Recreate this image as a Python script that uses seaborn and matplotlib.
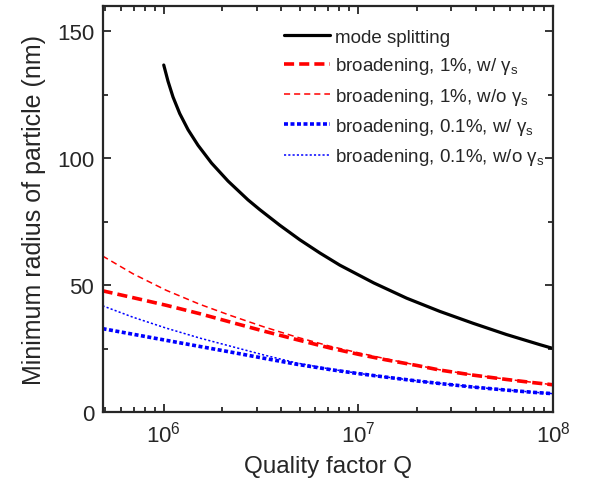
import numpy as np
import pandas as pd
import matplotlib
matplotlib.use("Agg")
import matplotlib.pyplot as plt
import seaborn as sns

# ---- data ----
q_split = [1.0e6, 1.052e6, 1.116e6, 1.208e6, 1.334e6, 1.50e6, 1.76e6, 2.14e6,
           2.71e6, 3.11e6, 3.95e6, 5.0e6, 6.34e6, 8.03e6, 1.2e7, 1.77e7,
           2.62e7, 3.89e7, 5.76e7, 8.56e7, 1.0e8]
r_split = [136.7, 130.3, 124.1, 117.6, 111.2, 105.1, 98.1, 91.0,
           83.6, 79.8, 73.6, 67.9, 62.7, 57.9, 50.9, 44.9,
           39.7, 35.0, 30.6, 26.6, 25.1]

q_broad = [4.85e5, 6.95e5, 1.03e6, 1.53e6, 2.2e6, 3.24e6, 4.81e6, 7.14e6,
           1.0e7, 1.39e7, 2.0e7, 2.62e7, 3.89e7, 5.76e7, 8.0e7, 1.0e8]
r_1_with = [47.8, 45.1, 42.1, 38.8, 35.5, 32.0, 28.6, 25.3,
            22.8, 20.6, 18.4, 16.6, 14.6, 12.9, 11.6, 10.8]
r_1_without = [61.5, 54.5, 48.0, 42.5, 38.1, 33.7, 29.6, 26.0,
               23.4, 21.0, 18.5, 16.7, 14.7, 13.0, 11.7, 10.8]
r_01_with = [32.9, 30.7, 28.3, 25.9, 23.7, 21.3, 18.9, 16.8,
             15.2, 13.8, 12.3, 11.3, 9.9, 8.7, 7.8, 7.3]
r_01_without = [41.9, 37.4, 33.1, 29.2, 26.0, 22.6, 19.4, 17.0,
                15.3, 13.85, 12.35, 11.35, 9.95, 8.75, 7.85, 7.3]

labels = ["mode splitting",
          "broadening, 1%, w/ γ$_{s}$",
          "broadening, 1%, w/o γ$_{s}$",
          "broadening, 0.1%, w/ γ$_{s}$",
          "broadening, 0.1%, w/o γ$_{s}$"]

sns.set_style("ticks")
plt.rcParams["font.family"] = ["Liberation Sans", "DejaVu Sans"]
plt.rcParams["mathtext.fontset"] = "custom"
plt.rcParams["mathtext.rm"] = "Liberation Sans"
plt.rcParams["mathtext.default"] = "regular"

fig = plt.figure(figsize=(6.07, 4.89), dpi=100)
ax = fig.add_axes([0.169, 0.155, 0.742, 0.831])

series = [
    (q_split, r_split, labels[0], "black", 2.3, None),
    (q_broad, r_1_with, labels[1], "#ff0000", 2.6, (2.8, 1.4)),
    (q_broad, r_1_without, labels[2], "#ff0000", 1.1, (4.0, 2.6)),
    (q_broad, r_01_with, labels[3], "#0000ff", 2.6, (1.1, 0.7)),
    (q_broad, r_01_without, labels[4], "#0000ff", 1.1, (1.4, 1.4)),
]

for q, r, lab, col, lw, dash in series:
    df = pd.DataFrame({"Q": q, "r": r})
    sns.lineplot(data=df, x="Q", y="r", ax=ax, color=col, linewidth=lw, label=lab)
    line = ax.get_lines()[-1]
    if dash is not None:
        line.set_dashes(dash)

ax.set_xscale("log")
ax.set_xlim(4.85e5, 1.0e8)
ax.set_ylim(0, 160)
ax.set_yticks([0, 50, 100, 150])
ax.set_yticks([25, 75, 125], minor=True)

ax.set_xlabel("Quality factor Q", fontsize=17.5, labelpad=6)
ax.set_ylabel("Minimum radius of particle (nm)", fontsize=18, labelpad=8)

ax.tick_params(which="both", direction="in", top=True, right=True, width=1.3,
               labelsize=16)
ax.tick_params(which="major", length=6)
ax.tick_params(which="minor", length=3.5)
ax.tick_params(axis="x", which="major", pad=6)
ax.tick_params(axis="y", which="major", pad=6)
for s in ax.spines.values():
    s.set_linewidth(1.6)

leg = ax.legend(loc="upper left", frameon=False, fontsize=13.5,
                handlelength=2.45, handletextpad=0.27, labelspacing=0.5,
                bbox_to_anchor=(0.386, 0.962), borderaxespad=0.0,
                borderpad=0.4)

fig.savefig("out.png", dpi=100)
